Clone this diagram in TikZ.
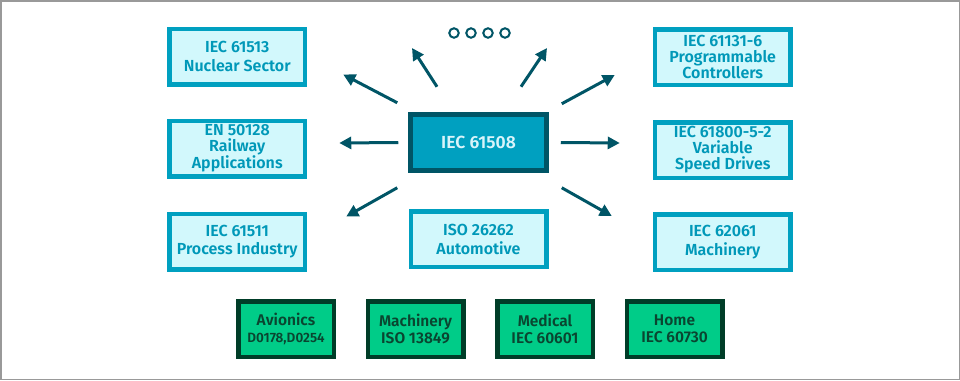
\documentclass[tikz,border=0pt]{standalone}
\usepackage{fontspec}
\setmainfont{Fira Sans}[BoldFont={Fira Sans SemiBold}]
\usepackage{xcolor}
\usetikzlibrary{arrows.meta,positioning,calc}

\definecolor{stdline}{HTML}{00A0C0}
\definecolor{stdfill}{HTML}{D2F8FC}
\definecolor{stdtext}{HTML}{0098B8}
\definecolor{hubline}{HTML}{005566}
\definecolor{hubtext}{HTML}{D8F4FA}
\definecolor{secfill}{HTML}{00CC88}
\definecolor{secline}{HTML}{003D28}
\definecolor{sectext}{HTML}{0A4530}
\definecolor{framegray}{HTML}{999999}

\begin{document}
\begin{tikzpicture}[
    x=1pt, y=-1pt,
    box/.style={rectangle, draw=stdline, fill=stdfill, text=stdtext, line width=4.5pt,
        inner sep=0pt, align=center, minimum width=135.5pt, minimum height=55.5pt,
        font=\fontsize{16}{18.5}\selectfont\bfseries},
    tight/.style={font=\fontsize{16}{16}\selectfont\bfseries},
    hub/.style={box, draw=hubline, fill=stdline, text=hubtext, line width=5pt,
        font=\fontsize{17.5}{18}\selectfont\bfseries},
    sector/.style={box, draw=secline, fill=secfill, text=sectext, minimum width=95.5pt,
        font=\fontsize{15.5}{17}\selectfont\bfseries},
    dot/.style={circle, draw=hubline, line width=2pt, minimum size=9.5pt, inner sep=0pt},
    arrow/.style={-{Triangle[length=12pt,width=12pt]}, line width=3pt, draw=hubline}
]

% Frame
\useasboundingbox (0,0) rectangle (960,380);
\draw[framegray, line width=1.5pt] (0.75,0.75) rectangle (959.25,379.25);

% Central standard
\node[hub] (hub) at (478.5,142.5) {IEC 61508};

% Left column
\node[box, tight, left=101pt of hub, yshift=-6pt] (rail) {EN 50128\\Railway\\Applications};
\node[box, above=32pt of rail] (nuclear) {IEC 61513\\Nuclear Sector};
\node[box, below=33pt of rail] (process) {IEC 61511\\Process Industry};

% Right column
\node[box, tight, right=104pt of hub, yshift=-7.5pt] (drives) {IEC 61800-5-2\\Variable\\Speed Drives};
\node[box, tight, above=33pt of drives] (plc) {IEC 61131-6\\Programmable\\Controllers};
\node[box, below=32pt of drives] (machinery) {IEC 62061\\Machinery};

% Below the hub
\node[box, below=36.5pt of hub] (auto) {ISO 26262\\Automotive};

% More to come
\node[dot] (dot1) at (454,33) {};
\node[dot, right=5.5pt of dot1] (dot2) {};
\node[dot, right=5.5pt of dot2] (dot3) {};
\node[dot, right=5.5pt of dot3] (dot4) {};

% Sector row
\node[sector] (avionics) at (286,329) {Avionics\\{\fontsize{13.5}{15}\selectfont D0178,D0254}};
\node[sector, right=29.5pt of avionics] (iso) {Machinery\\ISO 13849};
\node[sector, right=29.5pt of iso] (medical) {Medical\\IEC 60601};
\node[sector, right=29.5pt of medical] (home) {Home\\IEC 60730};

% Arrow ends
\coordinate (ul tail) at ([shift={(-11,-9.5)}]hub.north west);
\coordinate (ul head) at ([shift={(36,18)}]nuclear.east);
\coordinate (u1 tail) at ([shift={(-41.5,-25.5)}]hub.north);
\coordinate (u1 head) at ([shift={(-42,15)}]dot1.center);
\coordinate (u2 tail) at ([shift={(42.5,-25.5)}]hub.north);
\coordinate (u2 head) at ([shift={(42,15)}]dot4.center);
\coordinate (ur tail) at ([shift={(13,-8.5)}]hub.north east);
\coordinate (ur head) at ([shift={(-38,18)}]plc.west);
\coordinate (l tail) at ([shift={(-10,0)}]hub.west);
\coordinate (l head) at ([shift={(32,-5.5)}]rail.east);
\coordinate (r tail) at ([shift={(12,0)}]hub.east);
\coordinate (r head) at ([shift={(-33,-7)}]drives.west);
\coordinate (dl tail) at ([shift={(-11,15)}]hub.south west);
\coordinate (dl head) at ([shift={(39,-25)}]process.east);
\coordinate (dr tail) at ([shift={(13,15)}]hub.south east);
\coordinate (dr head) at ([shift={(-41,-26)}]machinery.west);

% Arrows
\draw[arrow] (ul tail) -- (ul head);
\draw[arrow] (u1 tail) -- (u1 head);
\draw[arrow] (u2 tail) -- (u2 head);
\draw[arrow] (ur tail) -- (ur head);
\draw[arrow] (l tail) -- (l head);
\draw[arrow] (r tail) -- (r head);
\draw[arrow] (dl tail) -- (dl head);
\draw[arrow] (dr tail) -- (dr head);

\end{tikzpicture}
\end{document}
